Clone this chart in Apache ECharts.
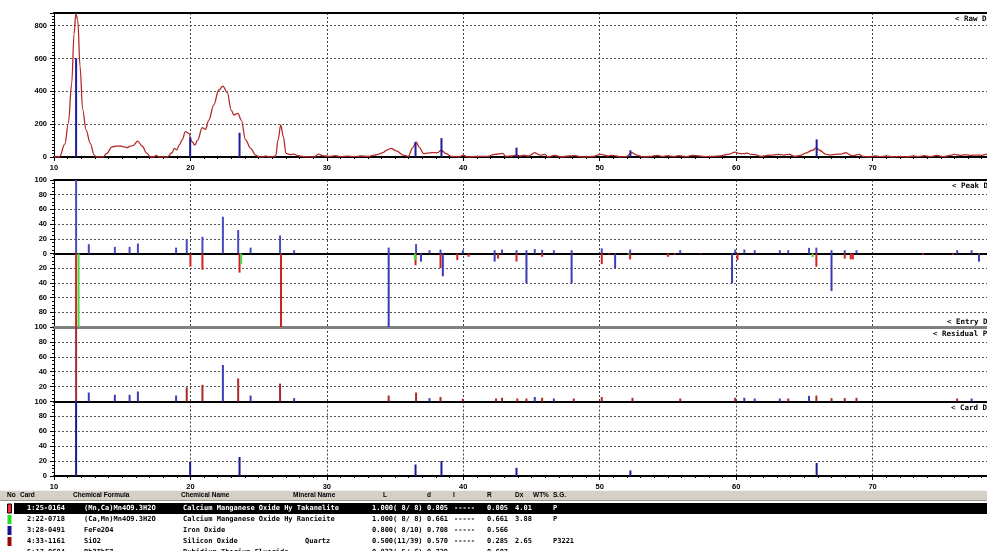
<!DOCTYPE html>
<html><head><meta charset="utf-8">
<script src="https://cdn.jsdelivr.net/npm/echarts@6/dist/echarts.min.js"></script>
<style>html,body{margin:0;padding:0;background:#fff;overflow:hidden}#c{width:987px;height:551px}</style>
</head><body><div id="c"></div>
<script>
// ---------- DATA ----------
var xTicks = [10, 20, 30, 40, 50, 60, 70, 80];
var rawScan = [[10.0,0],[10.4,0],[10.8,80],[11.05,205],[11.3,450],[11.47,750],[11.6,875],[11.74,835],[11.91,550],[12.1,290],[12.35,165],[12.65,85],[12.95,12],[13.1,0],[13.6,0],[13.87,22],[14.24,62],[14.6,66],[14.85,67],[15.1,62],[15.34,57],[15.6,66],[15.83,71],[16.13,97],[16.45,67],[16.82,22],[17.05,0],[17.3,0],[17.5,10],[17.7,0],[18.3,0],[18.65,26],[18.82,53],[19.0,43],[19.2,75],[19.39,104],[19.63,154],[19.88,144],[20.12,93],[20.32,73],[20.54,104],[20.86,179],[21.1,168],[21.35,225],[21.71,317],[22.08,408],[22.38,432],[22.7,392],[22.99,286],[23.18,256],[23.48,266],[23.73,225],[24.04,104],[24.41,53],[24.78,12],[25.02,0],[25.3,0],[25.5,6],[25.8,0],[26.25,6],[26.42,104],[26.62,195],[26.81,124],[27.0,22],[27.3,15],[27.6,18],[27.8,10],[28.0,6],[28.4,2],[29.07,0],[29.4,18],[29.7,8],[29.9,6],[30.2,3],[30.6,8],[31.0,2],[31.5,5],[32.0,2],[32.5,6],[33.0,3],[33.5,12],[33.8,18],[34.12,27],[34.4,42],[34.7,53],[35.1,37],[35.6,12],[35.96,4],[36.3,57],[36.54,92],[36.79,57],[37.1,20],[37.4,24],[37.65,27],[38.13,27],[38.38,41],[38.75,20],[39.1,4],[39.7,0],[40.0,12],[40.3,0],[41.0,3],[41.8,4],[42.3,16],[42.9,22],[43.1,4],[43.5,6],[43.9,12],[44.2,6],[44.4,12],[44.8,6],[45.24,27],[45.5,15],[45.7,12],[46.0,16],[46.2,0],[46.7,10],[47.2,0],[47.7,6],[48.2,8],[48.7,0],[49.5,3],[50.1,16],[50.6,6],[50.9,10],[51.2,6],[51.6,0],[52.0,4],[52.35,27],[52.7,12],[53.2,0],[53.7,3],[54.2,10],[54.6,3],[55.0,8],[55.4,2],[55.8,8],[56.3,2],[56.8,10],[57.3,6],[57.8,2],[58.3,4],[58.8,6],[59.4,16],[59.95,30],[60.2,22],[60.54,20],[60.8,24],[61.1,16],[61.4,14],[61.8,4],[62.3,10],[62.7,12],[63.1,16],[63.5,12],[63.9,16],[64.3,4],[64.7,10],[65.1,24],[65.6,41],[65.88,57],[66.1,41],[66.6,16],[66.9,12],[67.3,16],[67.7,18],[68.03,26],[68.5,8],[69.0,16],[69.3,4],[69.7,0],[70.2,6],[70.6,2],[71.0,6],[71.5,0],[72.0,4],[72.5,0],[73.0,6],[73.4,2],[73.8,8],[74.2,2],[74.7,10],[75.2,2],[75.8,12],[76.0,16],[76.4,10],[76.8,14],[77.2,10],[77.6,12],[78.0,10],[78.3,16],[78.8,12],[79.3,10],[80.0,8]];
var rawSticks = [[11.62,601],[19.98,120],[23.6,148],[36.5,90],[38.4,115],[43.9,57],[52.25,41],[65.9,107]];
var peakData = [[11.62,100],[12.55,12.7],[14.46,9],[15.54,9],[16.15,13.6],[18.95,8],[19.73,19.5],[20.88,22.7],[22.38,50],[23.5,32],[24.41,8],[26.57,24.5],[27.6,4.5],[34.53,8],[36.54,12.7],[37.52,4.5],[38.33,5.4],[39.97,4.5],[42.3,4.5],[42.84,5.4],[43.9,4.5],[44.63,4.5],[45.24,6],[45.78,5],[46.64,4.5],[47.94,4.5],[50.15,7],[52.23,5.4],[55.9,4.5],[59.93,5.4],[60.6,5.4],[61.36,4.5],[63.2,4.5],[63.82,4.5],[65.34,7.7],[65.88,8],[66.99,4.5],[67.96,4.5],[68.82,4.5],[76.2,4.5],[77.26,4.5]];
var entryCard1 = [[11.62,-100],[20.0,-18],[20.88,-22],[23.6,-26],[26.64,-100],[36.5,-16],[38.33,-20],[39.56,-9],[40.39,-4.5],[42.55,-7],[43.9,-11],[45.78,-4.5],[50.15,-14.5],[50.7,-1.5],[52.23,-8],[55.0,-4.5],[55.5,-2],[57.4,-1],[60.1,-9],[65.88,-18],[67.96,-7],[68.4,-8],[68.55,-8],[73.7,-2],[75.9,-2]];
var entryCard2 = [[11.8,-100],[23.72,-14.5],[36.45,-9],[52.1,-1.5],[65.6,-5]];
var entryCard3 = [[34.53,-100],[36.9,-11],[38.5,-31],[42.3,-11],[44.63,-40.5],[47.94,-40.5],[51.13,-20],[59.7,-40.5],[66.99,-51],[77.8,-11]];
var residualA = [[11.62,100],[19.73,19],[20.88,22.4],[23.5,31],[26.57,24],[34.53,8],[36.54,12],[38.33,6],[39.97,3.6],[42.4,4],[42.84,5],[43.96,4],[44.63,4],[45.78,5],[48.1,4],[50.15,6],[52.4,5],[55.9,4],[59.93,5],[63.82,4],[65.88,8],[66.99,4.5],[67.96,4.5],[68.82,5],[76.2,4]];
var residualB = [[12.55,12],[14.46,9],[15.54,9],[16.15,13.5],[18.95,8],[22.38,49],[24.41,8],[27.6,4.5],[37.52,4.5],[45.24,6],[46.64,4],[60.6,5],[61.36,4],[63.2,4],[65.34,7.6],[77.26,4]];
var cardData = [[11.62,100],[19.98,19],[23.6,25.5],[36.5,15.5],[38.4,20],[43.9,11],[52.25,7.5],[65.9,17.5]];
var panelNames = ["< Raw Data", "< Peak Data", "< Entry Data", "< Residual Peaks", "< Card Data"];
var tableHeader = ["No", "Card", "Chemical Formula", "Chemical Name", "Mineral Name", "L", "d", "I", "R", "Dx", "WT%", "S.G."];
var tableRows = [
  ["1:25-0164", "(Mn,Ca)Mn4O9.3H2O", "Calcium Manganese Oxide Hy Takanelite", "", "1.000( 8/ 8)", "0.805", "-----", "0.805", "4.01", "", "P"],
  ["2:22-0718", "(Ca,Mn)Mn4O9.3H2O", "Calcium Manganese Oxide Hy Rancieite", "", "1.000( 8/ 8)", "0.661", "-----", "0.661", "3.88", "", "P"],
  ["3:28-0491", "FeFe2O4", "Iron Oxide", "", "0.800( 8/10)", "0.708", "-----", "0.566", "", "", ""],
  ["4:33-1161", "SiO2", "Silicon Oxide", "Quartz", "0.500(11/39)", "0.570", "-----", "0.285", "2.65", "", "P3221"],
  ["5:17-0684", "Rb3ThF7", "Rubidium Thorium Fluoride", "", "0.833( 5/ 6)", "0.729", "-----", "0.607", "", "", ""]
];

// ---------- LAYOUT / STYLE ----------
var L = 54, W = 955;
var headerX = [7, 20, 73, 181, 293, 383, 427, 453, 487, 515, 533, 553];
var rowX = [27, 84, 183, 305, 372, 427, 454, 487, 515, 534, 553];
var rowY = [508.5, 519.5, 530.5, 541.5, 552];
var swatchColors = ['#ff2a2a', '#22dd22', '#14148c', '#9a0a0a', null];
var AX_FONT = {color: '#000', fontFamily: 'Liberation Sans', fontWeight: 'bold', fontSize: 7.5};

function stickRender(params, api) {
  var x = api.value(0), y = api.value(1);
  var p0 = api.coord([x, 0]), p1 = api.coord([x, y]);
  return {type: 'line', shape: {x1: p0[0], y1: p0[1], x2: p1[0], y2: p1[1]},
          style: {stroke: api.visual('color'), lineWidth: 2}};
}
function sticks(data, color, g, z) {
  return {type: 'custom', xAxisIndex: g, yAxisIndex: g, data: data, renderItem: stickRender,
          encode: {x: 0, y: 1}, itemStyle: {color: color}, z: z || 3, silent: true};
}
function xAx(g, labels) {
  return {type: 'value', gridIndex: g, min: xTicks[0], max: xTicks[xTicks.length - 1], interval: 10,
    axisLine: {show: true, onZero: g === 1, lineStyle: {color: '#000', width: 2}},
    axisTick: {show: labels, length: 4, lineStyle: {color: '#000'}},
    minorTick: {show: labels, splitNumber: 10, length: 2, lineStyle: {color: '#000'}},
    axisLabel: Object.assign({show: labels, margin: 7}, AX_FONT),
    splitLine: {show: true, lineStyle: {type: [2, 2], color: '#444', width: 1}}};
}
function xDeco(g, color, width) {
  return {type: 'value', gridIndex: g, position: 'top', min: 10, max: 80,
    axisLine: {show: true, onZero: false, lineStyle: {color: color, width: width}},
    axisTick: {show: false}, axisLabel: {show: false}, splitLine: {show: false}};
}
function yAx(g, min, max, interval, minorSplit, fmt) {
  return {type: 'value', gridIndex: g, min: min, max: max, interval: interval,
    axisLine: {show: true, onZero: false, lineStyle: {color: '#000', width: 1}},
    axisTick: {show: true, length: 4, lineStyle: {color: '#000'}},
    minorTick: {show: true, splitNumber: minorSplit, length: 2, lineStyle: {color: '#000'}},
    axisLabel: Object.assign({margin: 7, formatter: fmt}, AX_FONT),
    splitLine: {show: true, lineStyle: {type: [2, 2], color: '#555', width: 1}}};
}

var graphics = [];
var labelPos = [[955, 19], [952, 186], [947, 322], [933, 334], [951, 408]];
panelNames.forEach(function (t, i) {
  graphics.push({type: 'text', style: {text: t, x: labelPos[i][0], y: labelPos[i][1],
    font: 'bold 7.5px "DejaVu Sans Mono"', fill: '#000', verticalAlign: 'middle', textVerticalAlign: 'middle'}});
});
graphics.push({type: 'rect', shape: {x: 0, y: 490, width: 987, height: 11}, style: {fill: '#d4d0c8'}});
graphics.push({type: 'line', shape: {x1: 0, y1: 490.5, x2: 987, y2: 490.5}, style: {stroke: '#f4f3ee', lineWidth: 1}});
graphics.push({type: 'line', shape: {x1: 0, y1: 500.5, x2: 987, y2: 500.5}, style: {stroke: '#9d9a90', lineWidth: 1}});
tableHeader.forEach(function (t, i) {
  graphics.push({type: 'text', style: {text: t, x: headerX[i], y: 495.5,
    font: 'bold 6.5px "Liberation Sans"', fill: '#000', verticalAlign: 'middle', textVerticalAlign: 'middle'}});
});
graphics.push({type: 'rect', shape: {x: 14, y: 503, width: 973, height: 11}, style: {fill: '#000'}});
tableRows.forEach(function (row, r) {
  if (swatchColors[r]) {
    graphics.push({type: 'rect', shape: {x: 7.5, y: rowY[r] - 4.5, width: 4, height: 9},
      style: {fill: swatchColors[r], stroke: r === 0 ? '#000' : null, lineWidth: 1}});
  }
  row.forEach(function (t, c) {
    if (!t) return;
    graphics.push({type: 'text', style: {text: t, x: rowX[c], y: rowY[r],
      font: 'bold 7px "DejaVu Sans Mono"', fill: r === 0 ? '#fff' : '#000',
      verticalAlign: 'middle', textVerticalAlign: 'middle'}});
  });
});

function gridBox(top, height) {
  return {left: L, top: top, width: W, height: height, containLabel: false, outerBoundsMode: 'none'};
}
var option = {
  animation: false,
  backgroundColor: '#fff',
  grid: [gridBox(13, 144), gridBox(180, 147), gridBox(327, 74.5), gridBox(401.5, 74.5)],
  xAxis: [xAx(0, true), xAx(1, false), xAx(2, false), xAx(3, true),
          xDeco(0, '#000', 2), xDeco(1, '#000', 2), xDeco(2, '#808080', 3)],
  yAxis: [
    yAx(0, 0, 877, 200, 10, function (v) { return v % 200 === 0 ? v : ''; }),
    yAx(1, -100, 100, 20, 4, function (v) { return Math.abs(v); }),
    yAx(2, 0, 100, 20, 4, function (v) { return (v > 0 && v < 100) ? v : ''; }),
    yAx(3, 0, 100, 20, 4, function (v) { return v; })
  ],
  series: [
    {type: 'line', xAxisIndex: 0, yAxisIndex: 0, data: rawScan, showSymbol: false, smooth: 0.35,
     smoothMonotone: 'x', lineStyle: {color: '#b52c2c', width: 1.3}, z: 2, silent: true},
    sticks(rawSticks, '#1c1c9c', 0, 4),
    sticks(peakData, '#4a4abf', 1),
    sticks(entryCard1, '#d42020', 1),
    sticks(entryCard2, '#44dd44', 1),
    sticks(entryCard3, '#3a3ab8', 1),
    sticks(residualA, '#a82a2a', 2),
    sticks(residualB, '#3c3cb8', 2),
    sticks(cardData, '#1a1a96', 3)
  ],
  graphic: graphics
};
var chart = echarts.init(document.getElementById('c'), null, {renderer: 'canvas'});
chart.setOption(option);
</script></body></html>
